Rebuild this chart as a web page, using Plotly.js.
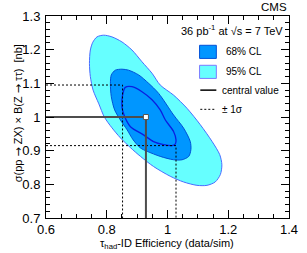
<!DOCTYPE html>
<html>
<head>
<meta charset="utf-8">
<script src="https://cdn.plot.ly/plotly-3.0.1.min.js"></script>
<style>html,body{margin:0;padding:0;background:#fff}#chart{width:307px;height:253px}</style>
</head>
<body>
<div id="chart"></div>
<script>
// Axis ranges
const xRange = [0.6, 1.4];
const yRange = [0.7, 1.3];

// 95% CL contour
const cl95X = [0.790, 0.817, 0.850, 0.883, 0.916, 0.949, 0.976, 1.020, 1.064, 1.108, 1.147, 1.172, 1.179, 1.174, 1.157, 1.130, 1.097, 1.053, 1.009, 0.954, 0.911, 0.878, 0.845, 0.817, 0.792, 0.774, 0.755, 0.746, 0.743, 0.746, 0.754, 0.768, 0.790];
const cl95Y = [1.243, 1.238, 1.223, 1.199, 1.164, 1.130, 1.095, 1.065, 1.026, 0.977, 0.927, 0.888, 0.858, 0.829, 0.807, 0.797, 0.797, 0.807, 0.824, 0.853, 0.883, 0.909, 0.938, 0.968, 1.000, 1.039, 1.080, 1.120, 1.159, 1.199, 1.222, 1.238, 1.243];

// 68% CL contour
const cl68X = [0.850, 0.872, 0.905, 0.938, 0.971, 1.020, 1.053, 1.075, 1.077, 1.070, 1.048, 1.020, 0.976, 0.933, 0.911, 0.887, 0.867, 0.845, 0.826, 0.815, 0.812, 0.815, 0.828, 0.850];
const cl68Y = [1.142, 1.139, 1.125, 1.100, 1.070, 1.006, 0.967, 0.927, 0.903, 0.883, 0.873, 0.873, 0.883, 0.898, 0.908, 0.932, 0.962, 0.991, 1.021, 1.060, 1.100, 1.125, 1.139, 1.142];

// 1 sigma contour line
const sig1X = [0.861, 0.883, 0.916, 0.949, 0.976, 0.993, 1.020, 1.028, 1.026, 1.015, 0.987, 0.954, 0.921, 0.878, 0.856, 0.850, 0.852, 0.861];
const sig1Y = [1.088, 1.090, 1.075, 1.051, 1.021, 0.991, 0.957, 0.932, 0.920, 0.915, 0.918, 0.927, 0.947, 0.971, 1.008, 1.031, 1.065, 1.088];

// central value and +-1 sigma bounds
const centralValue = [0.929, 1.0];
const sigmaXBounds = [0.852, 1.028];
const sigmaYBounds = [0.915, 1.095];

const FONT = 'Liberation Sans, Arial, Helvetica, sans-serif';
const C95 = '#66ffff', C95L = '#4a6cff';
const C68 = '#0096ff', C68L = '#0050d8';
const CSIG = '#0a1ee0';
const CLINE = '#4d4d4d';
const DOT = '2px,2px';
const ARROW = '<span style="font-family:DejaVu Sans">→</span>';

const traces = [
  {x: cl95X, y: cl95Y, mode: 'lines', fill: 'toself', fillcolor: C95,
   line: {color: C95L, width: 1, shape: 'spline', smoothing: 0.8}, hoverinfo: 'skip'},
  {x: cl68X, y: cl68Y, mode: 'lines', fill: 'toself', fillcolor: C68,
   line: {color: C68L, width: 1, shape: 'spline', smoothing: 0.8}, hoverinfo: 'skip'},
  {x: sig1X, y: sig1Y, mode: 'lines',
   line: {color: CSIG, width: 1.3, shape: 'spline', smoothing: 0.8}, hoverinfo: 'skip'},
  // dotted +-1 sigma lines
  {x: [xRange[0], sigmaXBounds[0], sigmaXBounds[0]], y: [sigmaYBounds[1], sigmaYBounds[1], yRange[0]],
   mode: 'lines', line: {color: '#000', width: 1, dash: DOT}},
  {x: [xRange[0], sigmaXBounds[1], sigmaXBounds[1]], y: [sigmaYBounds[0], sigmaYBounds[0], yRange[0]],
   mode: 'lines', line: {color: '#000', width: 1, dash: DOT}},
  // central value lines
  {x: [xRange[0], centralValue[0], centralValue[0]], y: [centralValue[1], centralValue[1], yRange[0]],
   mode: 'lines', line: {color: CLINE, width: 2}},
  {x: [centralValue[0]], y: [centralValue[1]], mode: 'markers',
   marker: {symbol: 'square', size: 5, color: '#fff', line: {color: '#555', width: 1}}}
];

const axisCommon = {
  showgrid: false, zeroline: false, showline: true, linecolor: '#000', linewidth: 1,
  mirror: 'ticks', ticks: 'inside', ticklen: 8, tickcolor: '#000', tickwidth: 1,
  tickfont: {family: FONT, size: 13, color: '#000'}
};

const layout = {
  width: 307, height: 253,
  margin: {l: 45.7, r: 18.3, t: 15.7, b: 34.5},
  paper_bgcolor: '#fff', plot_bgcolor: '#fff',
  showlegend: false,
  xaxis: Object.assign({}, axisCommon, {range: xRange, dtick: 0.2, tick0: 0.6, ticklabelstandoff: -1,
    minor: {dtick: 0.05, ticklen: 4, ticks: 'inside', tickcolor: '#000'}}),
  yaxis: Object.assign({}, axisCommon, {range: yRange, dtick: 0.1, tick0: 0.7, ticklabelstandoff: 2,
    minor: {dtick: 0.02, ticklen: 4, ticks: 'inside', tickcolor: '#000'}}),
  annotations: [
    {text: 'CMS', xref: 'paper', yref: 'paper', x: 1, y: 1, xanchor: 'right', yanchor: 'bottom',
     yshift: 1, showarrow: false, font: {family: FONT, size: 11.5, color: '#000'}},
    {text: '36 pb<sup>-1</sup> at √s = 7 TeV', xref: 'paper', yref: 'paper', x: 0.984, y: 0.93,
     xanchor: 'right', yanchor: 'middle', showarrow: false, font: {family: FONT, size: 11, color: '#000'}},
    {text: '68% CL', xref: 'paper', yref: 'paper', x: 0.731, y: 0.822, xanchor: 'left', yanchor: 'middle',
     showarrow: false, font: {family: FONT, size: 10, color: '#000'}},
    {text: '95% CL', xref: 'paper', yref: 'paper', x: 0.731, y: 0.725, xanchor: 'left', yanchor: 'middle',
     showarrow: false, font: {family: FONT, size: 10, color: '#000'}},
    {text: 'central value', xref: 'paper', yref: 'paper', x: 0.717, y: 0.633, xanchor: 'left', yanchor: 'middle',
     showarrow: false, font: {family: FONT, size: 10, color: '#000'}},
    {text: '± 1σ', xref: 'paper', yref: 'paper', x: 0.714, y: 0.538, xanchor: 'left', yanchor: 'middle',
     showarrow: false, font: {family: FONT, size: 10, color: '#000'}},
    {text: 'τ<sub>had</sub>-ID Efficiency (data/sim)', xref: 'paper', yref: 'paper', x: 0.499, y: 0,
     xanchor: 'center', yanchor: 'middle', yshift: -26, showarrow: false,
     font: {family: FONT, size: 11, color: '#000'}},
    {text: 'σ(pp ' + ARROW + ' ZX) × B(Z ' + ARROW + ' ττ)  [nb]', xref: 'paper', yref: 'paper', x: 0, y: 0.87,
     xanchor: 'center', yanchor: 'top', xshift: -28, textangle: -90, showarrow: false,
     font: {family: FONT, size: 11, color: '#000'}}
  ],
  shapes: [
    {type: 'rect', xref: 'paper', yref: 'paper', x0: 0.632, x1: 0.701, y0: 0.790, y1: 0.855,
     fillcolor: C68, line: {color: C68L, width: 1}},
    {type: 'rect', xref: 'paper', yref: 'paper', x0: 0.632, x1: 0.701, y0: 0.691, y1: 0.756,
     fillcolor: C95, line: {color: '#7a7aff', width: 1}},
    {type: 'line', xref: 'paper', yref: 'paper', x0: 0.635, x1: 0.701, y0: 0.633, y1: 0.633,
     line: {color: '#000', width: 1.5}},
    {type: 'line', xref: 'paper', yref: 'paper', x0: 0.635, x1: 0.697, y0: 0.538, y1: 0.538,
     line: {color: '#000', width: 1, dash: DOT}}
  ]
};

Plotly.newPlot('chart', traces, layout, {staticPlot: true, displayModeBar: false});
</script>
</body>
</html>
